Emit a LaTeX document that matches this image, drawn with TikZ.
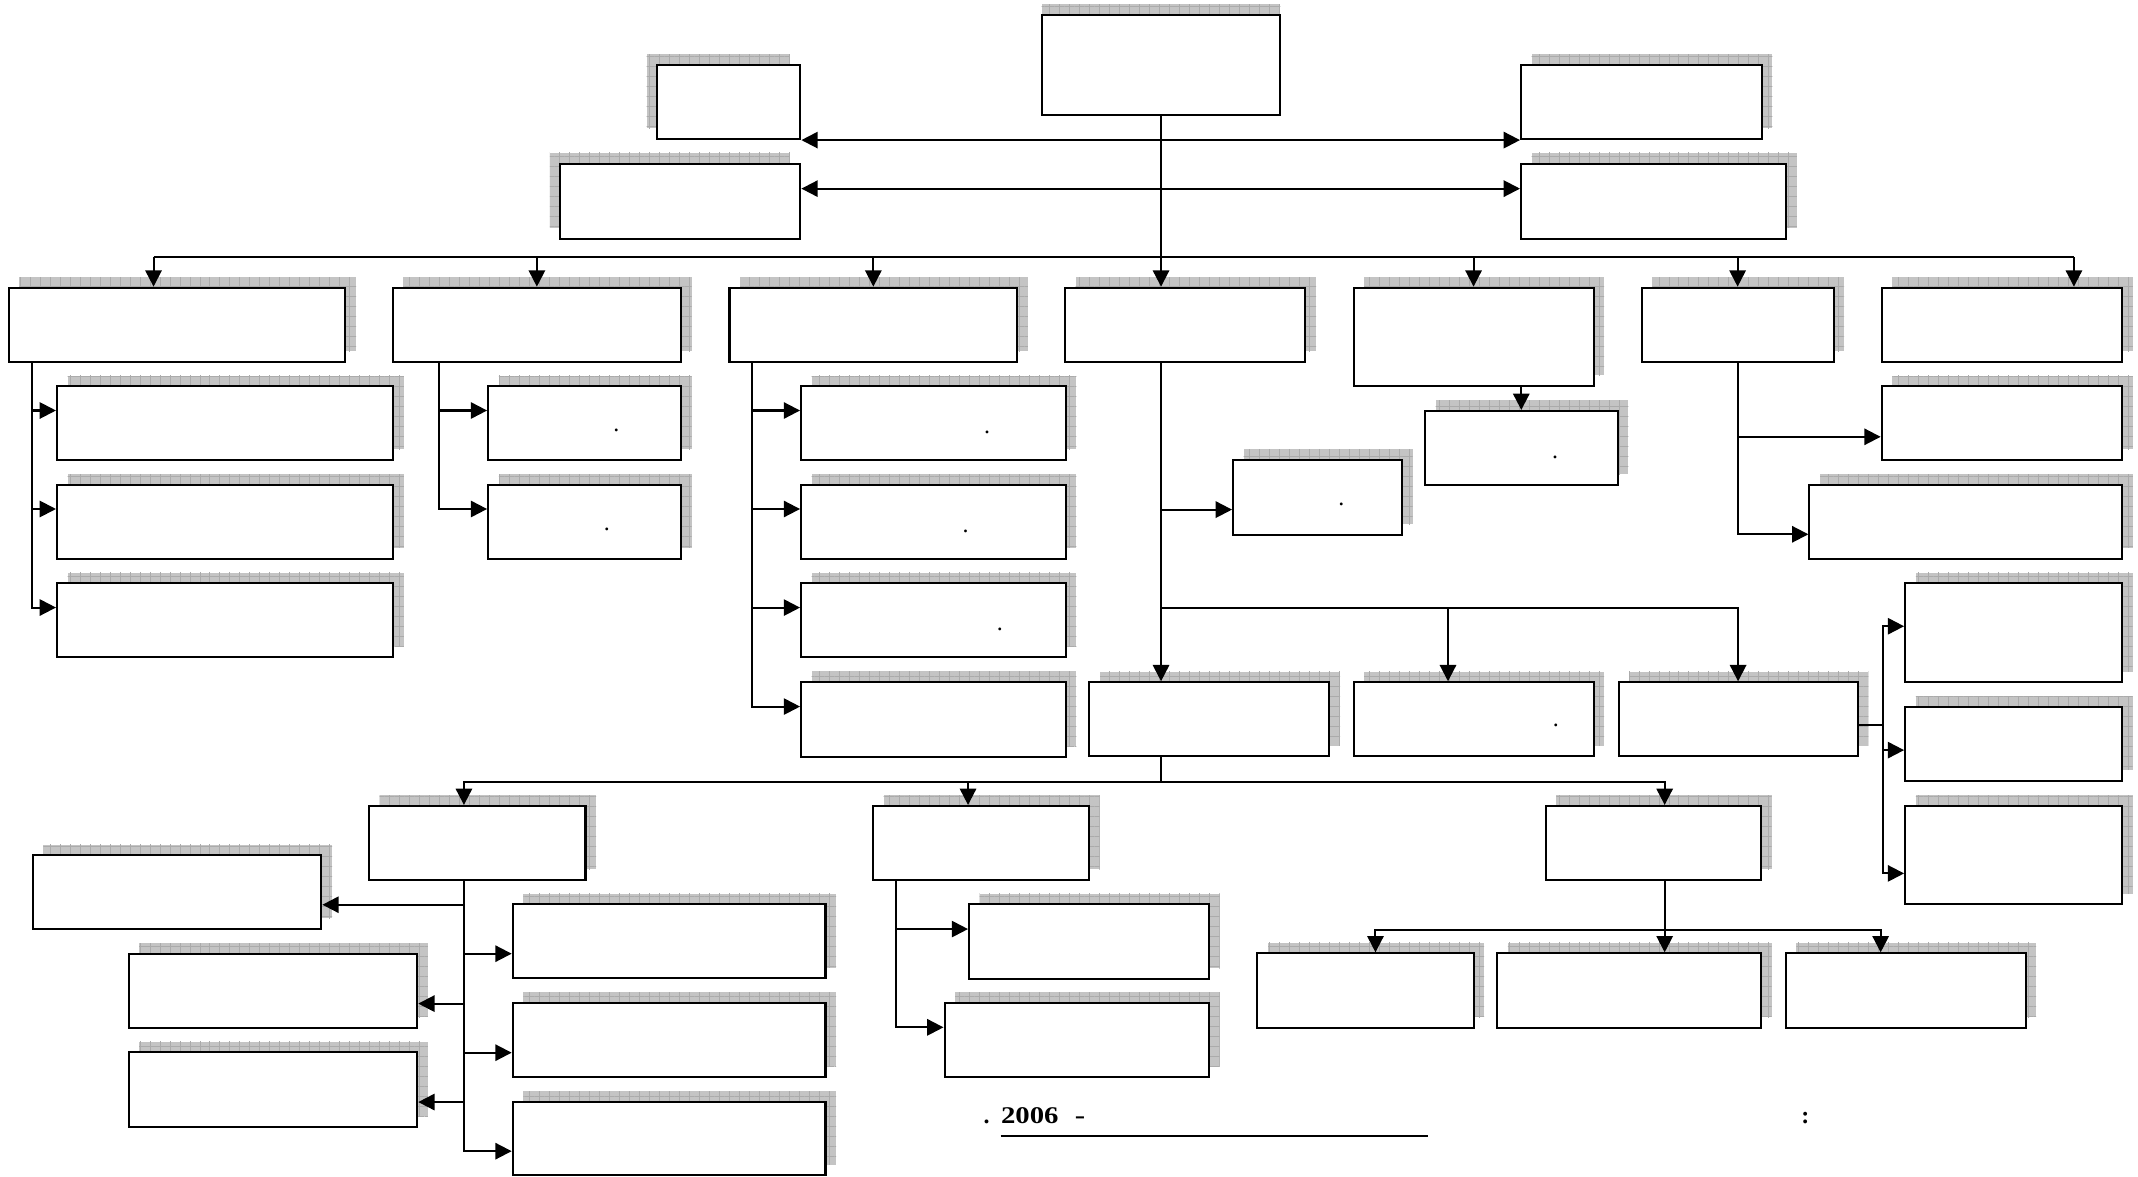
\documentclass[tikz,border=0pt]{standalone}
\usepackage{fontspec}
\setmainfont{Liberation Serif}
\usetikzlibrary{arrows.meta,calc,fit,patterns.meta}
\definecolor{shcol}{gray}{0.77}
\definecolor{shline}{gray}{0.67}
\tikzset{
  boxst/.style={draw=black, line width=0.85pt, fill=white, inner sep=0pt},
  conn/.style={line width=0.85pt},
  arr/.style={conn, -{Triangle[length=6.8pt,width=6.8pt]}},
  arrr/.style={conn, {Triangle[length=6.8pt,width=6.8pt]}-{Triangle[length=6.8pt,width=6.8pt]}},
  dotst/.style={inner sep=0pt, font=\fontsize{10}{11}\selectfont},
  bottxt/.style={inner sep=0pt, font=\bfseries\fontsize{10}{12}\selectfont},
}
\newcommand\oboxs[7]{%
  \fill[shcol] ($(#2,#3)+(#6,#7)$) rectangle ($(#4,#5)+(#6,#7)$);
  \fill[pattern={Lines[angle=90,distance=0.1466cm,line width=0.3pt]}, pattern color=shline] ($(#2,#3)+(#6,#7)$) rectangle ($(#4,#5)+(#6,#7)$);
  \fill[pattern={Lines[angle=0,distance=0.1466cm,line width=0.3pt]}, pattern color=shline] ($(#2,#3)+(#6,#7)$) rectangle ($(#4,#5)+(#6,#7)$);
  \node[boxst, fit={(#2,#3)(#4,#5)}] (#1) {};}
\newcommand\obox[5]{\oboxs{#1}{#2}{#3}{#4}{#5}{7.8}{-7.8}}
\begin{document}
\begin{tikzpicture}[x=0.02cm,y=-0.02cm]
\useasboundingbox (0,0) rectangle (1568,862.5);
% top
\oboxs{T}{764}{11}{939}{84}{0}{-7.8}
\oboxs{L1}{482}{47.7}{587}{102}{-7.8}{-7.8}
\oboxs{L2}{411}{120}{587}{175}{-7.8}{-7.8}
\obox{R1}{1115.5}{47.7}{1292}{102}
\obox{R2}{1115.5}{120}{1310}{175}
% row 1
\obox{B1}{6.5}{211}{253.3}{265.3}
\obox{B2}{288}{211}{499.5}{265.3}
\obox{B3}{535}{211}{746}{265.3}
\obox{B4}{781}{211}{957.4}{265.3}
\obox{B5}{992.7}{211}{1168.7}{283}
\obox{B6}{1204}{211}{1344.7}{265.3}
\obox{B7}{1380}{211}{1556.4}{265.3}
% children
\obox{C1a}{41.8}{283.3}{288.4}{337.4}
\obox{C1b}{41.8}{355.5}{288.4}{409.7}
\obox{C1c}{41.8}{427.8}{288.4}{481.9}
\obox{C2a}{358}{283.3}{499.5}{337.4}
\obox{C2b}{358}{355.5}{499.5}{409.7}
\obox{C3a}{587.5}{283.3}{781.6}{337.4}
\obox{C3b}{587.5}{355.5}{781.6}{409.7}
\obox{C3c}{587.5}{427.8}{781.6}{482}
\obox{C3d}{587.5}{500.2}{781.6}{555}
\obox{D1}{904.3}{337.4}{1028.2}{392.1}
\obox{G}{1045}{301.4}{1186.4}{355.7}
\obox{H1}{1380}{283.3}{1556.4}{337.4}
\obox{H2}{1327}{355.7}{1556.4}{409.7}
\obox{E1}{799}{500.4}{975}{554.7}
\obox{E2}{992.7}{500.4}{1168.7}{554.7}
\obox{E3}{1187}{500.4}{1362.4}{554.7}
\obox{F1}{1397.2}{427.8}{1556.3}{500.4}
\obox{F2}{1397.2}{518.3}{1556.3}{572.5}
\obox{F3}{1397.2}{590.9}{1556.3}{663.2}
\obox{P1}{270.7}{591.1}{429.4}{645.2}
\obox{P2}{640.3}{591.1}{798.7}{645.2}
\obox{P3}{1133.6}{591.1}{1291.5}{645.2}
\obox{Q1}{24}{627.3}{235.7}{681.4}
\obox{Q2}{94.3}{699.4}{306}{753.7}
\obox{Q3}{94.3}{771.8}{306}{826.3}
\obox{S1}{376}{663.3}{605.4}{717.5}
\obox{S2}{376}{735.6}{605.4}{789.6}
\obox{S3}{376}{808}{605.4}{862}
\obox{U1}{710.7}{663.3}{886.7}{717.8}
\obox{U2}{692.7}{735.6}{886.7}{789.6}
\obox{V1}{922.2}{699.2}{1080.7}{753.7}
\obox{V2}{1098.1}{699.2}{1291.5}{753.7}
\obox{V3}{1309.6}{699.2}{1485.5}{753.7}
% dots
\node[dotst] (d1) at (452,316) {.};
\node[dotst] (d2) at (445,388) {.};
\node[dotst] (d3) at (723.9,316.8) {.};
\node[dotst] (d4) at (708.2,389.4) {.};
\node[dotst] (d5) at (733.2,461.3) {.};
\node[dotst] (d6) at (983.7,369.6) {.};
\node[dotst] (d7) at (1140.5,335.2) {.};
\node[dotst] (d8) at (1141,532) {.};
% top connectors
\draw[arr] (T.south) -- (T.south |- B4.north);
\draw[arrr] (L1.south east) -- (R1.south west);
\draw[arrr] ($(L2.north east)!0.338!(L2.south east)$) -- ($(R2.north west)!0.338!(R2.south west)$);
\coordinate (busL) at (112.6,188.5);
\coordinate (busR) at (1521,188.5);
\draw[conn] (busL) -- (busR);
\draw[arr] (busL) -- (busL |- B1.north);
\draw[arr] (B2.north |- busL) -- (B2.north);
\draw[arr] (B3.north |- busL) -- (B3.north);
\draw[arr] (B5.north |- busL) -- (B5.north);
\draw[arr] (B6.north |- busL) -- (B6.north);
\draw[arr] (busR) -- (busR |- B7.north);
% B1 children
\coordinate (b1t) at ($(B1.south west)+(17.5,0)$);
\draw[arr] (b1t) |- ($(C1a.north west)!0.333!(C1a.south west)$);
\draw[arr] (b1t) |- ($(C1b.north west)!0.333!(C1b.south west)$);
\draw[arr] (b1t) |- ($(C1c.north west)!0.333!(C1c.south west)$);
% B2 children
\coordinate (b2t) at ($(B2.south west)+(35,0)$);
\draw[arr] (b2t) |- ($(C2a.north west)!0.333!(C2a.south west)$);
\draw[arr] (b2t) |- ($(C2b.north west)!0.333!(C2b.south west)$);
% B3 children
\coordinate (b3t) at ($(B3.south west)+(17,0)$);
\draw[arr] (b3t) |- ($(C3a.north west)!0.333!(C3a.south west)$);
\draw[arr] (b3t) |- ($(C3b.north west)!0.333!(C3b.south west)$);
\draw[arr] (b3t) |- ($(C3c.north west)!0.333!(C3c.south west)$);
\draw[arr] (b3t) |- ($(C3d.north west)!0.333!(C3d.south west)$);
% B4 branch
\coordinate (b4t) at (T.south |- B4.south);
\draw[arr] (b4t) -- (b4t |- E1.north);
\draw[arr] (b4t) |- ($(D1.north west)!0.66!(D1.south west)$);
\coordinate (c3cl) at ($(C3c.north west)!0.338!(C3c.south west)$);
\coordinate (br) at (b4t |- c3cl);
\draw[arr] (br) -| ($(E2.north west)+(70,0)$);
\draw[arr] (br) -| (E3.north);
% B5, B6
\draw[arr] (G.north |- B5.south) -- (G.north);
\draw[arr] (B6.south) |- ($(H1.north west)!0.68!(H1.south west)$);
\draw[arr] (B6.south) |- ($(H2.north west)!0.665!(H2.south west)$);
% E3 children
\coordinate (e3j) at ($(E3.north east)!0.58!(E3.south east)$);
\coordinate (ftr) at ($(e3j)+(18,0)$);
\draw[conn] (e3j) -- (ftr);
\draw[arr] (ftr) |- ($(F1.north west)!0.435!(F1.south west)$);
\draw[arr] (ftr) |- ($(F2.north west)!0.585!(F2.south west)$);
\draw[arr] (ftr) |- ($(F3.north west)!0.683!(F3.south west)$);
% row 3 bus
\coordinate (r3s) at (b4t |- E1.south);
\coordinate (r3j) at ($(r3s)+(0,18)$);
\draw[conn] (r3s) -- (r3j);
\draw[arr] (r3j) -| ($(P1.north west)+(70.3,0)$);
\draw[arr] (r3j) -| ($(P2.north west)+(70.4,0)$);
\draw[arr] (r3j) -| ($(P3.north west)+(88,0)$);
% P1 children
\coordinate (p1t) at ($(P1.south west)+(70.3,0)$);
\draw[arr] (p1t) |- ($(Q1.north east)!0.665!(Q1.south east)$);
\draw[arr] (p1t) |- ($(Q2.north east)!0.67!(Q2.south east)$);
\draw[arr] (p1t) |- ($(Q3.north east)!0.664!(Q3.south east)$);
\draw[arr] (p1t) |- ($(S1.north west)!0.662!(S1.south west)$);
\draw[arr] (p1t) |- ($(S2.north west)!0.67!(S2.south west)$);
\draw[arr] (p1t) |- ($(S3.north west)!0.667!(S3.south west)$);
% P2 children
\coordinate (p2t) at ($(P2.south west)+(17.4,0)$);
\draw[arr] (p2t) |- ($(U1.north west)!0.336!(U1.south west)$);
\draw[arr] (p2t) |- ($(U2.north west)!0.335!(U2.south west)$);
% P3 children
\coordinate (p3t) at ($(P3.south west)+(88,0)$);
\coordinate (p3j) at ($(p3t)+(0,36.2)$);
\draw[arr] (p3t) -- (p3t |- V2.north);
\draw[arr] (p3j) -| ($(V1.north west)+(87.3,0)$);
\draw[arr] (p3j) -| ($(V3.north west)+(70.4,0)$);
% bottom text
\node[bottxt, anchor=base west] (tdot) at (721,824.3) {.};
\node[bottxt, anchor=base west] (tyear) at (733.8,824.3) {\scalebox{1.2}[1]{2006}};
\node[bottxt, anchor=base west] (tdash) at (788,824.3) {\scalebox{1.3}[1]{-}};
\node[bottxt, anchor=base] (tcolon) at (1324,824.3) {:};
\coordinate (ulA) at (733.8,833.2);
\coordinate (ulB) at (1047,833.2);
\draw[line width=0.85pt] (ulA) -- (ulB);
\end{tikzpicture}
\end{document}
